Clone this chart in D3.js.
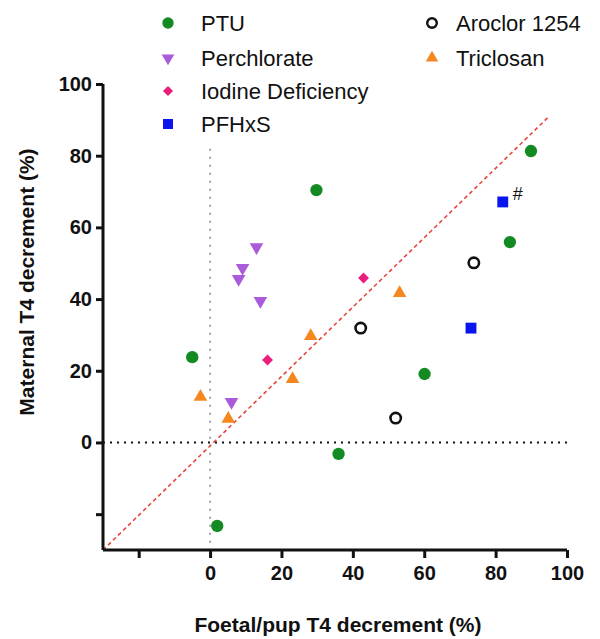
<!DOCTYPE html>
<html>
<head>
<meta charset="utf-8">
<script src="https://cdn.jsdelivr.net/npm/d3@7"></script>
<style>
  html, body { margin: 0; padding: 0; background: #fff; }
  svg { display: block; }
  text { font-family: "Liberation Sans", Arial, sans-serif; }
</style>
</head>
<body>
<svg id="chart" width="600" height="639"></svg>
<script>
// ---- data ----
const seriesNames = ["PTU", "Perchlorate", "Iodine Deficiency", "PFHxS", "Aroclor 1254", "Triclosan"];
const ptu = [[89.9, 81.3], [29.8, 70.4], [84.0, 55.9], [60.1, 19.1], [36.0, -3.2], [-5.0, 23.8], [2.0, -23.3]];
const perchlorate = [[13.0, 54.5], [9.1, 48.7], [8.0, 45.6], [14.1, 39.5], [6.0, 11.3]];
const iodine = [[43.0, 45.9], [16.1, 23.0]];
const pfhxs = [[82.0, 67.1], [73.1, 31.9]];
const aroclor = [[42.2, 31.9], [73.9, 50.1], [52.0, 6.8]];
const triclosan = [[53.1, 41.7], [28.2, 29.7], [23.1, 17.7], [-2.7, 12.7], [5.1, 6.6]];
const annotations = [{ x: 82.0, y: 67.1, label: "#" }];
const xTicks = [-20, 0, 20, 40, 60, 80, 100];
const xTickLabels = ["", "0", "20", "40", "60", "80", "100"];
const yTicks = [-20, 0, 20, 40, 60, 80, 100];
const yTickLabels = ["", "0", "20", "40", "60", "80", "100"];
const xDomain = [-30, 100];
const yDomain = [-30, 100];
const identityLine = [[-30, -30], [95, 91]];
const verticalRef = [[0, -28], [0, 82]];
const horizontalRef = [[-30, 0], [100, 0]];
const xTitle = "Foetal/pup T4 decrement (%)";
const yTitle = "Maternal T4 decrement (%)";

// ---- drawing ----
(function () {
const svg = d3.select("#chart");
const plotL = 103, plotR = 567, plotT = 84, plotB = 550;
const x = d3.scaleLinear().domain(xDomain).range([plotL, plotR]);
const y = d3.scaleLinear().domain(yDomain).range([plotB, plotT]);

const styles = {
  "PTU": { data: ptu, shape: "circle", fill: "#138a22", stroke: "none" },
  "Perchlorate": { data: perchlorate, shape: "down", fill: "#a95bd9", stroke: "none" },
  "Iodine Deficiency": { data: iodine, shape: "diamond", fill: "#ea1f7d", stroke: "none" },
  "PFHxS": { data: pfhxs, shape: "square", fill: "#0a14ee", stroke: "none" },
  "Aroclor 1254": { data: aroclor, shape: "open", fill: "none", stroke: "#111" },
  "Triclosan": { data: triclosan, shape: "up", fill: "#f5871f", stroke: "none" }
};

function symbolPath(shape, scale) {
  const s = scale || 1;
  switch (shape) {
    case "circle": return d3.symbol(d3.symbolCircle, 120 * s)();
    case "open": return d3.symbol(d3.symbolCircle, 85 * s)();
    case "square": return d3.symbol(d3.symbolSquare, 118 * s)();
    case "diamond": return d3.symbol(d3.symbolSquare, 60 * s)();
    case "up": return d3.symbol(d3.symbolTriangle, 80 * s)();
    case "down": return d3.symbol(d3.symbolTriangle, 80 * s)();
  }
}
function rot(shape) {
  if (shape === "diamond") return " rotate(45)";
  if (shape === "down") return " rotate(180)";
  return "";
}

// reference lines
const line = d3.line().x(d => x(d[0])).y(d => y(d[1]));
svg.append("path").attr("d", line(verticalRef))
  .attr("stroke", "#a0a0a8").attr("stroke-width", 2).attr("fill", "none")
  .attr("stroke-dasharray", "2,6");
svg.append("path").attr("d", line(horizontalRef))
  .attr("stroke", "#111").attr("stroke-width", 2).attr("fill", "none")
  .attr("stroke-dasharray", "2,5");
svg.append("path").attr("d", line(identityLine))
  .attr("stroke", "#e5473f").attr("stroke-width", 1.6).attr("fill", "none")
  .attr("stroke-dasharray", "4,3");

// axes
const xAxis = d3.axisBottom(x).tickValues(xTicks).tickSize(8).tickPadding(8)
  .tickFormat((d, i) => xTickLabels[i]);
const yAxis = d3.axisLeft(y).tickValues(yTicks).tickSize(7).tickPadding(4)
  .tickFormat((d, i) => yTickLabels[i]);
const gx = svg.append("g").attr("transform", `translate(0,${plotB})`).call(xAxis);
const gy = svg.append("g").attr("transform", `translate(${plotL},0)`).call(yAxis);
[gx, gy].forEach(g => {
  g.select(".domain").attr("stroke", "#111").attr("stroke-width", 3);
  g.selectAll(".tick line").attr("stroke", "#111").attr("stroke-width", 3);
  g.selectAll(".tick text").attr("fill", "#111").attr("font-size", 20)
    .attr("font-weight", "bold").attr("font-family", "Liberation Sans, Arial, sans-serif");
});
gx.select(".domain").attr("d", `M${plotL},0H${plotR}`);
gy.select(".domain").attr("d", `M0,${plotB}V${plotT}`);

// axis titles
svg.append("text").attr("x", 338).attr("y", 632).attr("text-anchor", "middle")
  .attr("font-size", 21).attr("font-weight", "bold").attr("fill", "#111").text(xTitle);
svg.append("text").attr("transform", "translate(34,282) rotate(-90)").attr("text-anchor", "middle")
  .attr("font-size", 21).attr("font-weight", "bold").attr("fill", "#111").text(yTitle);

// points
seriesNames.forEach(name => {
  const st = styles[name];
  svg.append("g").selectAll("path").data(st.data).join("path")
    .attr("d", symbolPath(st.shape))
    .attr("transform", d => `translate(${x(d[0])},${y(d[1])})` + rot(st.shape))
    .attr("fill", st.fill).attr("stroke", st.stroke)
    .attr("stroke-width", st.shape === "open" ? 2.6 : 0);
});

// annotations
svg.append("g").selectAll("text").data(annotations).join("text")
  .attr("x", d => x(d.x) + 10).attr("y", d => y(d.y) - 2)
  .attr("font-family", "Liberation Sans, Arial, sans-serif")
  .attr("font-size", 18).attr("fill", "#111").text(d => d.label);

// legend
const legendPos = {
  "PTU": [168, 23], "Perchlorate": [168, 58], "Iodine Deficiency": [168, 91], "PFHxS": [168, 124],
  "Aroclor 1254": [432, 23], "Triclosan": [432, 58]
};
seriesNames.forEach(name => {
  const st = styles[name];
  const p = legendPos[name];
  const g = svg.append("g").attr("transform", `translate(${p[0]},${p[1]})`);
  g.append("path").attr("d", symbolPath(st.shape, 0.85))
    .attr("transform", rot(st.shape).trim() || null)
    .attr("fill", st.fill).attr("stroke", st.stroke)
    .attr("stroke-width", st.shape === "open" ? 2.4 : 0);
  g.append("text").attr("x", name === "Aroclor 1254" || name === "Triclosan" ? 24 : 33).attr("y", 0)
    .attr("dy", "0.35em").attr("font-size", 22).attr("fill", "#111").text(name);
});
})();
</script>
</body>
</html>
